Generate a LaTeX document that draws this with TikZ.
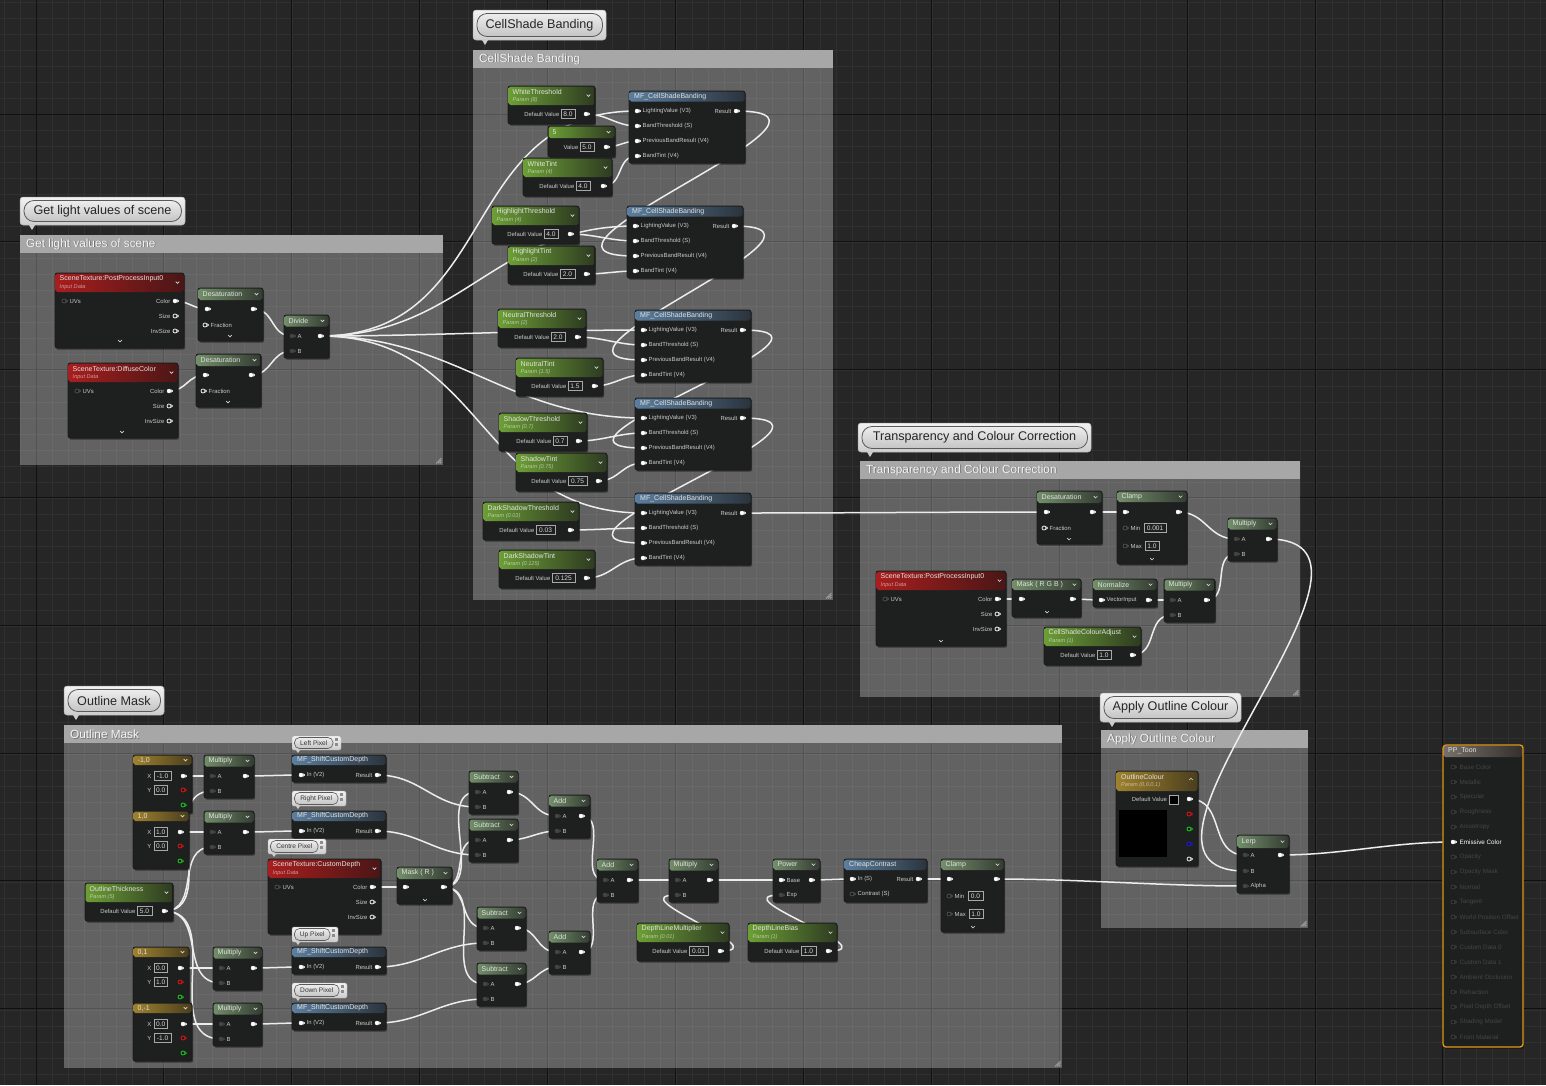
\documentclass[tikz,border=0pt]{standalone}
\usepackage{fontspec}
\setmainfont{Liberation Sans}
\usetikzlibrary{calc}
\pgfdeclarelayer{bgl}
\pgfdeclarelayer{wirel}
\pgfsetlayers{bgl,wirel,main}
\definecolor{bgc}{HTML}{262626}
\definecolor{minorc}{HTML}{303030}
\definecolor{majorc}{HTML}{111111}
\definecolor{ctbarc}{HTML}{A7A7A7}
\definecolor{nodebg}{HTML}{1E201F}
\definecolor{hpl}{HTML}{6C9E36}
\definecolor{hpr}{HTML}{2E3B21}
\definecolor{hml}{HTML}{728E6A}
\definecolor{hmr}{HTML}{343C32}
\definecolor{hrl}{HTML}{A81E1E}
\definecolor{hrr}{HTML}{4A1616}
\definecolor{hbl}{HTML}{5B7E9E}
\definecolor{hbr}{HTML}{2B343D}
\definecolor{hgl}{HTML}{9E812E}
\definecolor{hgr}{HTML}{4A3E1E}
\definecolor{hppl}{HTML}{77706A}
\definecolor{hppr}{HTML}{33302D}
\definecolor{ppor}{HTML}{E39A17}
\definecolor{titlec}{HTML}{E2E2E2}
\definecolor{lblc}{HTML}{C9C9C9}
\definecolor{pindc}{HTML}{454545}
\definecolor{pinoc}{HTML}{5A5A5A}
\definecolor{pinrc}{HTML}{E01515}
\definecolor{pingc}{HTML}{16D016}
\definecolor{pinbc}{HTML}{1A1AE6}
\definecolor{pplblc}{HTML}{444444}
\definecolor{valc}{HTML}{A8A8A8}
\definecolor{valtc}{HTML}{D8D8D8}
\definecolor{wirec}{HTML}{EDEDED}
\definecolor{bubt}{HTML}{F2F2F2}
\definecolor{bubb}{HTML}{CDCDCD}
\definecolor{bubd}{HTML}{B0B0B0}
\definecolor{pillt}{HTML}{EDEDED}
\definecolor{pillb}{HTML}{C4C4C4}
\definecolor{pilld}{HTML}{5A5A5A}
\tikzset{
  nodebody/.style={draw=black!90, fill=nodebg, rounded corners=2pt, inner sep=0pt, outer sep=0pt, line width=.6pt},
  nodeshadow/.style={fill=black, opacity=.45, rounded corners=2pt},
  hparam/.style={left color=hpl, right color=hpr},
  hmath/.style={left color=hml, right color=hmr},
  hred/.style={left color=hrl, right color=hrr},
  hblue/.style={left color=hbl, right color=hbr},
  hgold/.style={left color=hgl, right color=hgr},
  hpp/.style={left color=hppl, right color=hppr},
  ntitle/.style={anchor=west, inner sep=0pt, font=\fontsize{7}{7}\selectfont, text=titlec},
  nsub/.style={anchor=west, inner sep=0pt, font=\fontsize{5.6}{6}\selectfont\itshape, text=white, text opacity=.55},
  plbl/.style={inner sep=0pt, font=\fontsize{5.9}{6}\selectfont, text=lblc},
  pplbl/.style={anchor=west, inner sep=0pt, font=\fontsize{6.3}{6.5}\selectfont, text=pplblc},
  pinw/.style={fill=white, draw=white, line width=.4pt},
  pinh/.style={fill=black!85, draw=white, line width=.7pt},
  pind/.style={fill=pindc, draw=pindc, line width=.4pt},
  pino/.style={fill=black!90, draw=pinoc, line width=.6pt},
  pinr/.style={fill=black!90, draw=pinrc, line width=.8pt},
  ping/.style={fill=black!90, draw=pingc, line width=.8pt},
  pinb/.style={fill=black!90, draw=pinbc, line width=.8pt},
  pinp/.style={fill=black!90, draw=pplblc, line width=.6pt},
  chev/.style={draw=white!85!black, line width=.6pt},
  valbox/.style={draw=valc, line width=.5pt},
  valtxt/.style={inner sep=0pt, font=\fontsize{6.6}{6.6}\selectfont, text=valtc},
  wire/.style={draw=wirec, line width=1.5pt},
  ctitle/.style={anchor=west, inner sep=0pt, font=\fontsize{11.8}{12}\selectfont, text=white!96!black},
  bubtxt/.style={inner sep=0pt, font=\fontsize{12.6}{13}\selectfont, text=black!85},
  sbubtxt/.style={inner sep=0pt, font=\fontsize{6.6}{7}\selectfont, text=black!80},
  minorg/.style={draw=minorc, line width=.5pt},
  majorg/.style={draw=majorc, line width=1pt}
}
% ---------- helper macros ----------
\newcommand\uechev[2]{\draw[chev] ({#1-1.8},{#2-0.9}) -- ({#1},{#2+0.9}) -- ({#1+1.8},{#2-0.9});}
\newcommand\uebase[7]{%
  \fill[nodeshadow] (#2+1.2,#3+1.6) rectangle (#4+1.2,#5+1.6);
  \node[nodebody, anchor=north west, minimum width={(#4-(#2))*1pt}, minimum height={(#5-(#3))*1pt}] (#1) at (#2,#3) {};
  \shade[#7, rounded corners=1.8pt] (#2+0.5,#3+0.5) rectangle (#4-0.5,#6);
}
\newcommand\uenode[9]{%
  \uebase{#1}{#2}{#3}{#4}{#5}{#6}{#7}%
  \if\relax\detokenize{#9}\relax
    \node[ntitle] at (#2+4.5,{(#3+#6)/2}) {#8};%
  \else
    \node[ntitle] at (#2+4.5,#3+5.5) {#8};%
    \node[nsub] at (#2+4.5,#3+14) {#9};%
  \fi
  \uechev{#4-6.5}{(#3+#6)/2}%
}
\newcommand\uefnode[8]{%
  \uebase{#1}{#2}{#3}{#4}{#5}{#6}{#7}%
  \node[ntitle] at (#2+5,{(#3+#6)/2}) {#8};}
\newcommand\uepin[4]{%
  \coordinate (#1) at (#2,#3);
  \path[#4] (#2,#3) circle (2pt);
  \path[#4, line width=.3pt] (#2+2.6,#3-1.2) -- (#2+3.8,#3) -- (#2+2.6,#3+1.2) -- cycle;}
\newcommand\uein[5]{\uepin{#1}{#2}{#3}{#4}\node[plbl, anchor=west] at (#2+5.5,#3) {#5};}
\newcommand\ueout[5]{\uepin{#1}{#2}{#3}{#4}\node[plbl, anchor=east] at (#2-4.5,#3) {#5};}
\newcommand\uebox[4]{%
  \draw[valbox] (#1,#3-4.5) rectangle (#2,#3+4.5);
  \node[valtxt] at ({(#1+#2)/2},#3) {#4};}
\newcommand\uedef[5]{%
  \node[plbl, anchor=east] at (#2-1.5,#4) {#1};
  \uebox{#2}{#3}{#4}{#5}}
\newcommand\ueparam[9]{% name,x,y,w,title,sub,value,box x1,box x2
  \uenode{#1}{#2}{#3}{#2+#4}{#3+38}{#3+19}{hparam}{#5}{#6}
  \uedef{Default Value}{#8}{#9}{#3+28}{#7}
  \uepin{#1o}{#2+#4-9}{#3+28}{pinw}}
\newcommand\uemfband[3]{%
  \uefnode{#1}{#2}{#3}{#2+116}{#3+72}{#3+10.5}{hblue}{MF\_CellShadeBanding}
  \uein{#1lv}{#2+8}{#3+20}{pinw}{LightingValue (V3)}
  \uein{#1bt}{#2+8}{#3+35}{pinw}{BandThreshold (S)}
  \uein{#1pb}{#2+8}{#3+50}{pinw}{PreviousBandResult (V4)}
  \uein{#1tn}{#2+8}{#3+65}{pinw}{BandTint (V4)}
  \ueout{#1r}{#2+107}{#3+20}{pinw}{Result}}
\newcommand\uemfshift[3]{%
  \uefnode{#1}{#2}{#3}{#2+94}{#3+27}{#3+10}{hblue}{MF\_ShiftCustomDepth}
  \uein{#1in}{#2+9}{#3+20}{pinw}{In (V2)}
  \ueout{#1r}{#2+85}{#3+20}{pinw}{Result}}
\newcommand\ueab[5]{% name,x,y,w,title
  \uenode{#1}{#2}{#3}{#2+#4}{#3+43}{#3+11.5}{hmath}{#5}{}
  \uein{#1a}{#2+8}{#3+21}{pind}{A}
  \uein{#1b}{#2+8}{#3+36}{pind}{B}
  \uepin{#1out}{#2+#4-9}{#3+21}{pinw}}
\newcommand\uedesat[3]{%
  \uenode{#1}{#2}{#3}{#2+65}{#3+53}{#3+12}{hmath}{Desaturation}{}
  \uepin{#1in}{#2+9}{#3+21}{pinw}
  \uepin{#1out}{#2+55}{#3+21}{pinw}
  \uein{#1f}{#2+7}{#3+37}{pinh}{Fraction}
  \uechev{#2+32}{#3+48}}
\newcommand\uest[5]{% name,x,y,w,title
  \uenode{#1}{#2}{#3}{#2+#4}{#3+75}{#3+19}{hred}{#5}{Input Data}
  \uein{#1uv}{#2+9}{#3+28}{pino}{UVs}
  \ueout{#1c}{#2+#4-9}{#3+28}{pinw}{Color}
  \ueout{#1s}{#2+#4-9}{#3+43}{pinh}{Size}
  \ueout{#1i}{#2+#4-9}{#3+58}{pinh}{InvSize}}
\newcommand\uevec[9]{% name,x,y,w,title,xval,yval,xbw,ybw
  \uenode{#1}{#2}{#3}{#2+#4}{#3+58}{#3+10}{hgold}{#5}{}
  \node[plbl, anchor=east] at (#2+18.5,#3+21) {X};
  \uebox{#2+21}{#2+21+#8}{#3+21}{#6}
  \node[plbl, anchor=east] at (#2+18.5,#3+35) {Y};
  \uebox{#2+21}{#2+21+#9}{#3+35}{#7}
  \uepin{#1o}{#2+#4-9}{#3+21}{pinw}
  \uepin{#1r}{#2+#4-9}{#3+35}{pinr}
  \uepin{#1g}{#2+#4-9}{#3+50}{ping}}
\newcommand\uecomm[5]{% x1,y1,x2,y2,title
  \fill[white, opacity=.28] (#1,#2) rectangle (#3,#4);
  \fill[ctbarc] (#1,#2) rectangle (#3,#2+18);
  \node[ctitle, text=black!55] at (#1+6.8,#2+9.8) {#5};
  \node[ctitle] at (#1+6,#2+9) {#5};
  \foreach \k in {2,4,6} \draw[white!75!black, line width=.45pt] (#3-\k-1,#4-1.5) -- (#3-1.5,#4-\k-1);}
\newcommand\uebigbub[5]{%
  \shadedraw[top color=bubt, bottom color=bubb, draw=bubd, line width=.5pt, rounded corners=3pt] (#1,#2) rectangle (#3,#4);
  \shadedraw[top color=pillt, bottom color=pillb, draw=pilld, line width=.8pt, rounded corners=10pt] (#1+4,#2+3.5) rectangle (#3-3.5,#4-3.5);
  \node[bubtxt] at ({(#1+#3)/2},{(#2+#4)/2}) {#5};
  \fill[bubb] (#1+9,#4) -- (#1+15,#4) -- (#1+12,#4+5) -- cycle;}
\newcommand\uesmbub[5]{%
  \shadedraw[top color=bubt, bottom color=bubb, draw=bubd, line width=.4pt, rounded corners=1.5pt] (#1,#2) rectangle (#3,#4);
  \shadedraw[top color=pillt, bottom color=pillb, draw=pilld, line width=.6pt, rounded corners=5pt] (#1+2.5,#2+1.5) rectangle (#3-8,#4-1.5);
  \node[sbubtxt] at ({(#1+#3-5.5)/2},{(#2+#4)/2}) {#5};
  \fill[black!45] (#3-6,#2+2) rectangle (#3-3,#2+5);
  \fill[black!45] (#3-6,#2+7) rectangle (#3-3,#2+10);
  \fill[bubb] (#1+4,#4) -- (#1+8,#4) -- (#1+6,#4+3) -- cycle;}
\newcommand\uew[2]{%
  \draw[wire] let \p1=(#1), \p2=(#2),
    \n1={ifthenelse(\x2>\x1,(abs(\x2-\x1)+abs(\y2-\y1))/3,0.85*abs(\x2-\x1)+0.42*abs(\y2-\y1))}
  in (\p1) .. controls +(\n1,0) and +(-\n1,0) .. (\p2);}
\begin{document}
\begin{tikzpicture}[x=1pt,y=-1pt]
\useasboundingbox (0,0) rectangle (1546,1085);
% ================= background, comments =================
\begin{pgfonlayer}{bgl}
\fill[bgc] (0,0) rectangle (1546,1085);
\foreach \i in {0,...,96} \draw[minorg] ({4+16*\i},0) -- ({4+16*\i},1085);
\foreach \j in {0,...,67} \draw[minorg] (0,{2+16*\j}) -- (1546,{2+16*\j});
\foreach \i in {0,...,12} \draw[majorg] ({36+127.9*\i},0) -- ({36+127.9*\i},1085);
\foreach \j in {-1,...,8} \draw[majorg] (0,{114+127.8*\j}) -- (1546,{114+127.8*\j});
\uecomm{20}{235}{443}{465}{Get light values of scene}
\uecomm{473}{50}{833}{600}{CellShade Banding}
\uecomm{860}{461}{1300}{697}{Transparency and Colour Correction}
\uecomm{1101}{730}{1308}{928}{Apply Outline Colour}
\uecomm{64}{725}{1062}{1068}{Outline Mask}
\uebigbub{20}{197}{185}{225}{Get light values of scene}
\uebigbub{473}{10}{606}{40}{CellShade Banding}
\uebigbub{858}{423}{1091}{452}{Transparency and Colour Correction}
\uebigbub{1100}{693}{1241}{722}{Apply Outline Colour}
\uebigbub{64}{686}{164}{715}{Outline Mask}
\end{pgfonlayer}
% ================= Get light values of scene =================
\uest{sta}{55}{273}{129}{SceneTexture:PostProcessInput0}
\uechev{120}{341}
\uest{stb}{68}{363}{110}{SceneTexture:DiffuseColor}
\uechev{122}{432}
\uedesat{dsa}{198}{288}
\uedesat{dsb}{196}{354}
\ueab{div}{284}{315}{45}{Divide}
% ================= CellShade Banding =================
\ueparam{wth}{508}{86}{87}{WhiteThreshold}{Param (8)}{8.0}{561}{575}
\uenode{five}{548}{126}{615}{157}{138}{hparam}{5}{}
\uedef{Value}{580}{594}{147}{5.0}
\uepin{fiveo}{606}{147}{pinw}
\ueparam{wtn}{523}{158}{89}{WhiteTint}{Param (4)}{4.0}{576}{590}
\uemfband{mfa}{629}{91}
\ueparam{hth}{492}{206}{87}{HighlightThreshold}{Param (4)}{4.0}{544}{558}
\ueparam{htn}{508}{246}{87}{HighlightTint}{Param (2)}{2.0}{560}{575}
\uemfband{mfb}{627}{206}
\ueparam{nth}{498}{309}{88}{NeutralThreshold}{Param (2)}{2.0}{551}{565}
\ueparam{ntn}{516}{358}{87}{NeutralTint}{Param (1.5)}{1.5}{568}{582}
\uemfband{mfc}{635}{310}
\ueparam{sth}{499}{413}{88}{ShadowThreshold}{Param (0.7)}{0.7}{553}{567}
\ueparam{stn}{516}{453}{91}{ShadowTint}{Param (0.75)}{0.75}{568}{587}
\uemfband{mfd}{635}{398}
\ueparam{dth}{483}{502}{96}{DarkShadowThreshold}{Param (0.03)}{0.03}{536}{555}
\ueparam{dtn}{499}{550}{96}{DarkShadowTint}{Param (0.125)}{0.125}{552}{575}
\uemfband{mfe}{635}{493}
% ================= Transparency and Colour Correction =================
\uedesat{tds}{1037}{491}
\uenode{cla}{1117}{491}{1187}{564}{502}{hmath}{Clamp}{}
\uepin{clain}{1125}{512}{pinw}
\uepin{claout}{1178}{512}{pinw}
\uein{clamin}{1125}{528}{pino}{Min}
\uebox{1144}{1166}{528}{0.001}
\uein{clamax}{1125}{546}{pino}{Max}
\uebox{1145}{1159}{546}{1.0}
\uechev{1152}{559}
\ueab{tmul}{1228}{518}{49}{Multiply}
\uest{stc}{876}{571}{130}{SceneTexture:PostProcessInput0}
\uechev{941}{641}
\uenode{mrgb}{1012}{579}{1081}{617}{590}{hmath}{Mask ( R G B )}{}
\uepin{mrgbin}{1021}{599}{pinw}
\uepin{mrgbout}{1072}{599}{pinw}
\uechev{1047}{612}
\uenode{norm}{1093}{579}{1157}{607}{590}{hmath}{Normalize}{}
\uein{normin}{1101}{600}{pinw}{VectorInput}
\uepin{normout}{1148}{600}{pinw}
\ueab{tmm}{1164}{579}{51}{Multiply}
\ueparam{csca}{1044}{627}{97}{CellShadeColourAdjust}{Param (1)}{1.0}{1097}{1111}
% ================= Apply Outline Colour =================
\uebase{oc}{1116}{771}{1198}{866}{791}{hgold}
\node[ntitle] at (1121,776.5) {OutlineColour};
\node[nsub] at (1121,785) {Param (0,0,0,1)};
\draw[chev] (1189.2,780) -- (1191,778.2) -- (1192.8,780);
\node[plbl, anchor=east] at (1167,799) {Default Value};
\filldraw[fill=black, draw=valc, line width=.5pt] (1169,795) rectangle (1178,804);
\uepin{occ}{1189}{799}{pinw}
\uepin{ocr}{1189}{814}{pinr}
\uepin{ocg}{1189}{829}{ping}
\uepin{ocb}{1189}{844}{pinb}
\uepin{oca}{1189}{859}{pinh}
\fill[black] (1119,810) rectangle (1167,857);
\uenode{lerp}{1237}{835}{1289}{893}{848}{hmath}{Lerp}{}
\uein{lerpa}{1245}{855}{pind}{A}
\uein{lerpb}{1245}{871}{pind}{B}
\uein{lerpal}{1245}{886}{pind}{Alpha}
\uepin{lerpout}{1280}{855}{pinw}
% ================= PP_Toon =================
\uefnode{pp}{1443}{745}{1523}{1047}{757}{hpp}{PP\_Toon}
\draw[ppor, line width=1.3pt, rounded corners=3pt] (1443,745) rectangle (1523,1047);
\foreach \ppi/\ppl in {1/Base Color,2/Metallic,3/Specular,4/Roughness,5/Anisotropy,7/Opacity,8/Opacity Mask,9/Normal,10/Tangent,11/World Position Offset,12/Subsurface Color,13/Custom Data 0,14/Custom Data 1,15/Ambient Occlusion,16/Refraction,17/Pixel Depth Offset,18/Shading Model,19/Front Material}{%
  \path[pinp] (1453,{752+15*\ppi}) circle (2pt);
  \path[pinp, line width=.3pt] (1455.6,{752+15*\ppi-1.2}) -- (1456.8,{752+15*\ppi}) -- (1455.6,{752+15*\ppi+1.2}) -- cycle;
  \node[pplbl] at (1459.5,{752+15*\ppi}) {\ppl};
}
\uepin{ppem}{1453}{842}{pinw}
\node[pplbl, text=white] at (1459.5,842) {Emissive Color};
% ================= Outline Mask =================
\uevec{va}{133}{755}{59}{-1,0}{-1.0}{0.0}{17}{13.5}
\uevec{vb}{133}{811}{56}{1,0}{1.0}{0.0}{13.5}{13.5}
\uevec{vc}{133}{947}{56}{0,1}{0.0}{1.0}{13.5}{13.5}
\uevec{vd}{133}{1003}{59}{0,-1}{0.0}{-1.0}{13.5}{17}
\ueparam{oth}{85}{883}{88}{OutlineThickness}{Param (5)}{5.0}{137}{152}
\ueab{oma}{204}{755}{50}{Multiply}
\ueab{omb}{204}{811}{50}{Multiply}
\ueab{omc}{213}{947}{49}{Multiply}
\ueab{omd}{213}{1003}{49}{Multiply}
\uemfshift{sha}{292}{755}
\uemfshift{shb}{292}{811}
\uemfshift{shc}{292}{947}
\uemfshift{shd}{292}{1003}
\uest{stcd}{268}{859}{113}{SceneTexture:CustomDepth}
\uenode{mr}{397}{867}{452}{904}{879}{hmath}{Mask ( R )}{}
\uepin{mrin}{405}{887}{pinw}
\uepin{mrout}{443}{887}{pinw}
\uechev{425}{900}
\ueab{sba}{469}{771}{49}{Subtract}
\ueab{sbb}{469}{819}{49}{Subtract}
\ueab{sbc}{477}{907}{49}{Subtract}
\ueab{sbd}{477}{963}{49}{Subtract}
\ueab{ada}{549}{795}{41}{Add}
\ueab{adb}{549}{931}{41}{Add}
\ueab{adc}{597}{859}{41}{Add}
\ueab{omu}{669}{859}{49}{Multiply}
\ueparam{dlm}{637}{923}{92}{DepthLineMultiplier}{Param (0.01)}{0.01}{689}{708}
\uenode{powr}{773}{859}{820}{902}{870}{hmath}{Power}{}
\uein{powrb}{781}{880}{pinw}{Base}
\uein{powre}{781}{895}{pind}{Exp}
\uepin{powrout}{811}{880}{pinw}
\ueparam{dlb}{748}{923}{89}{DepthLineBias}{Param (1)}{1.0}{801}{816}
\uefnode{cc}{844}{859}{927}{902}{870}{hblue}{CheapContrast}
\uein{ccin}{852}{879}{pinw}{In (S)}
\uein{ccct}{852}{894}{pino}{Contrast (S)}
\ueout{ccr}{918}{879}{pinw}{Result}
\uenode{clb}{941}{859}{1004}{932}{870}{hmath}{Clamp}{}
\uepin{clbin}{949}{879}{pinw}
\uepin{clbout}{996}{879}{pinw}
\uein{clbmin}{949}{896}{pino}{Min}
\uebox{968}{983}{896}{0.0}
\uein{clbmax}{949}{914}{pino}{Max}
\uebox{969}{983}{914}{1.0}
\uechev{973}{927}
\uesmbub{292}{736}{341}{750}{Left Pixel}
\uesmbub{292}{791}{346}{806}{Right Pixel}
\uesmbub{268}{839}{326}{854}{Centre Pixel}
\uesmbub{292}{927}{338}{942}{Up Pixel}
\uesmbub{292}{983}{347}{998}{Down Pixel}
% ================= wires =================
\begin{pgfonlayer}{wirel}
\uew{stac}{dsain} \uew{stbc}{dsbin} \uew{dsaout}{diva} \uew{dsbout}{divb}
\uew{divout}{mfalv} \uew{divout}{mfblv} \uew{divout}{mfclv} \uew{divout}{mfdlv} \uew{divout}{mfelv}
\uew{wtho}{mfabt} \uew{fiveo}{mfapb} \uew{wtno}{mfatn}
\uew{mfar}{mfbpb} \uew{htho}{mfbbt} \uew{htno}{mfbtn}
\uew{mfbr}{mfcpb} \uew{ntho}{mfcbt} \uew{ntno}{mfctn}
\uew{mfcr}{mfdpb} \uew{stho}{mfdbt} \uew{stno}{mfdtn}
\uew{mfdr}{mfepb} \uew{dtho}{mfebt} \uew{dtno}{mfetn}
\uew{mfer}{tdsin}
\uew{tdsout}{clain} \uew{claout}{tmula}
\uew{stcc}{mrgbin} \uew{mrgbout}{normin} \uew{normout}{tmma} \uew{cscao}{tmmb} \uew{tmmout}{tmulb}
\uew{tmulout}{lerpb} \uew{occ}{lerpa} \uew{lerpout}{ppem} \uew{clbout}{lerpal}
\uew{vao}{omaa} \uew{vbo}{omba} \uew{vco}{omca} \uew{vdo}{omda}
\uew{otho}{omab} \uew{otho}{ombb} \uew{otho}{omcb} \uew{otho}{omdb}
\uew{omaout}{shain} \uew{ombout}{shbin} \uew{omcout}{shcin} \uew{omdout}{shdin}
\uew{shar}{sbab} \uew{shbr}{sbbb} \uew{shcr}{sbcb} \uew{shdr}{sbdb}
\uew{stcdc}{mrin}
\uew{mrout}{sbaa} \uew{mrout}{sbba} \uew{mrout}{sbca} \uew{mrout}{sbda}
\uew{sbaout}{adaa} \uew{sbbout}{adab} \uew{sbcout}{adba} \uew{sbdout}{adbb}
\uew{adaout}{adca} \uew{adbout}{adcb}
\uew{adcout}{omua} \uew{dlmo}{omub}
\uew{omuout}{powrb} \uew{dlbo}{powre}
\uew{powrout}{ccin} \uew{ccr}{clbin}
\end{pgfonlayer}
\end{tikzpicture}
\end{document}
